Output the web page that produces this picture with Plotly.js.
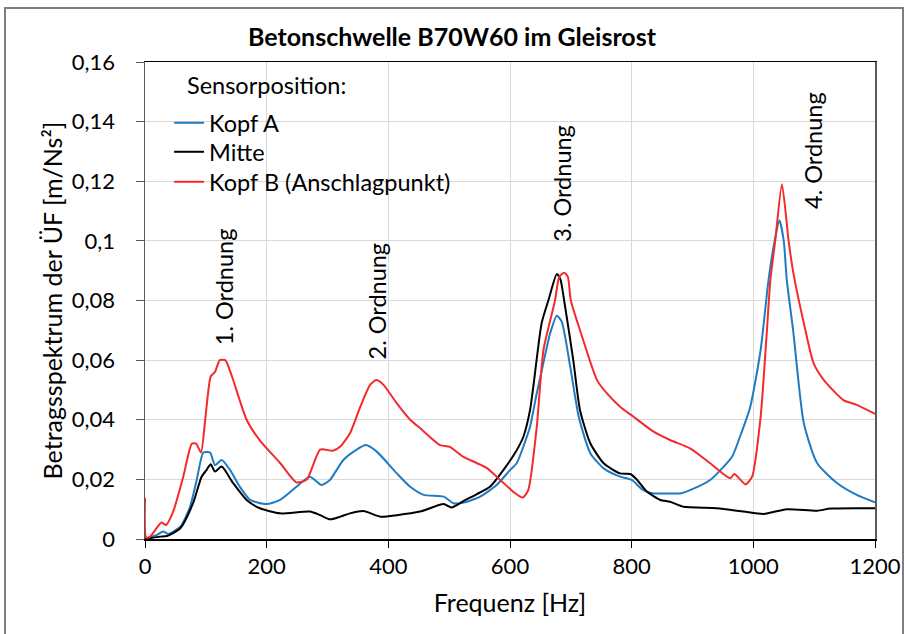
<!DOCTYPE html>
<html>
<head>
<meta charset="utf-8">
<script src="https://cdn.plot.ly/plotly-3.0.1.min.js"></script>
<style>
html,body{margin:0;padding:0;background:#fff;}
#chart{width:904px;height:634px;}
</style>
</head>
<body>
<div id="chart"></div>
<script>
// ---- data ----
const kopfA_f = [0,19,30,38,58,74,85,96,107,115,126,140,156,173,200,222,249,271,290,304,326,348,363,381,414,436,458,491,507,524,551,578,600,611,622,633,644,650,666,677,685,699,713,732,754,781,800,819,836,858,880,896,929,965,978,995,1012,1025,1035,1043,1050,1055,1066,1083,1105,1138,1170,1200];
const kopfA_v = [0,0.0013,0.0025,0.0017,0.0041,0.0108,0.0198,0.029,0.029,0.0248,0.0265,0.0231,0.0175,0.0131,0.0117,0.0131,0.0175,0.0209,0.0181,0.0198,0.0265,0.030,0.0315,0.0293,0.022,0.0175,0.0148,0.0142,0.012,0.0122,0.0142,0.0181,0.0231,0.0254,0.031,0.0377,0.0489,0.0544,0.069,0.0749,0.0729,0.0578,0.041,0.0288,0.0237,0.0209,0.0198,0.0164,0.0153,0.0153,0.0153,0.0164,0.0198,0.0276,0.0343,0.0444,0.0634,0.0869,0.100,0.1068,0.100,0.0869,0.069,0.0388,0.0254,0.0187,0.0148,0.0123];

const mitte_f = [0,25,36,58,79,93,101,108,115,126,145,167,189,222,271,288,304,321,337,359,387,414,452,491,504,524,545,567,589,611,622,633,639,652,663,677,683,689,704,715,732,754,781,798,809,825,847,863,885,940,984,1017,1055,1105,1127,1200];
const mitte_v = [0,0.0008,0.001,0.0036,0.012,0.0209,0.0231,0.0251,0.0226,0.0243,0.0187,0.0131,0.0103,0.0086,0.0092,0.008,0.0066,0.0075,0.0086,0.0094,0.0075,0.008,0.0092,0.0117,0.0106,0.0128,0.015,0.0175,0.0231,0.0298,0.0343,0.0433,0.0522,0.0724,0.080,0.0889,0.087,0.080,0.060,0.0433,0.0321,0.0254,0.022,0.0218,0.0198,0.0159,0.0131,0.0125,0.0108,0.0103,0.0092,0.0084,0.010,0.0095,0.0102,0.0103];

const kopfB_f = [0,2,8,27,34.5,46,63,77,84,92,99,108,115,123,132,143,167,189,222,249,266,288,309,321,337,354,370,380,392,414,436,452,485,501,523,545,562,584,605,621,630,644,655,674,681,689,695,700,715,743,759,781,803,836,863,896,929,962,969,987,998,1012,1022,1028,1036,1047,1058,1066,1083,1099,1116,1148,1170,1200];
const kopfB_v = [0.0138,0.0005,0.0007,0.0055,0.0047,0.009,0.021,0.032,0.032,0.029,0.040,0.0545,0.056,0.060,0.060,0.0545,0.040,0.033,0.0255,0.019,0.020,0.030,0.0296,0.031,0.0355,0.0444,0.0517,0.0533,0.0517,0.0455,0.040,0.0372,0.0315,0.0309,0.0276,0.0255,0.0238,0.0198,0.0159,0.0139,0.0164,0.0377,0.0634,0.080,0.088,0.0893,0.088,0.080,0.0701,0.0533,0.0489,0.0444,0.041,0.036,0.0332,0.0304,0.0254,0.0204,0.0218,0.0183,0.0209,0.041,0.069,0.0869,0.100,0.119,0.100,0.089,0.0724,0.059,0.0533,0.0466,0.045,0.042];

const seriesNames = ['Kopf A','Mitte','Kopf B (Anschlagpunkt)'];
const yTickVals = [0,0.02,0.04,0.06,0.08,0.1,0.12,0.14,0.16];
const yTickText = ['0','0,02','0,04','0,06','0,08','0,1','0,12','0,14','0,16'];
const xTickVals = [0,200,400,600,800,1000,1200];
const xTickText = ['0','200','400','600','800','1000','1200'];
const ordnungLabels = ['1. Ordnung','2. Ordnung','3. Ordnung','4. Ordnung'];
const ordnungX = [130,382,685,1098];
const ordnungY = [0.0845,0.0798,0.1194,0.1305];

const FONT = 'Lato, "Open Sans", sans-serif';

const lineStyle = (c)=>({color:c, width:2, shape:'spline', smoothing:0.6});
const traces = [
  {x:kopfA_f, y:kopfA_v, name:seriesNames[0], type:'scatter', mode:'lines', line:lineStyle('#1f7bc4'), legend:'legend'},
  {x:mitte_f, y:mitte_v, name:seriesNames[1], type:'scatter', mode:'lines', line:lineStyle('#000000'), legend:'legend2'},
  {x:kopfB_f, y:kopfB_v, name:seriesNames[2], type:'scatter', mode:'lines', line:lineStyle('#f52a2a'), legend:'legend3'}
];

const annotations = ordnungLabels.map((t,i)=>({
  text:t, x:ordnungX[i], y:ordnungY[i], xref:'x', yref:'y',
  textangle:-90, showarrow:false, font:{family:FONT, size:23.5, color:'#000'}
}));
annotations.push({
  text:'Sensorposition:', xref:'paper', yref:'paper', x:0.0548, y:0.952,
  xanchor:'left', yanchor:'middle', showarrow:false, font:{family:FONT, size:23.5, color:'#000'}
});

const legendBase = (yc)=>({x:0.033, y:yc, xanchor:'left', yanchor:'middle', bgcolor:'rgba(0,0,0,0)', borderwidth:0, font:{family:FONT, size:23.5, color:'#000'}});

const layout = {
  width:904, height:634,
  margin:{l:145, r:29, t:62, b:95},
  paper_bgcolor:'#ffffff', plot_bgcolor:'#ffffff',
  font:{family:FONT, size:22, color:'#000'},
  title:{text:'<b>Betonschwelle B70W60 im Gleisrost</b>', x:0.5, xref:'container', xanchor:'center', y:0.942, yref:'container', yanchor:'middle', font:{family:FONT, size:25, color:'#000'}},
  showlegend:true,
  legend:legendBase((539-123)/477),
  legend2:legendBase((539-152)/477),
  legend3:legendBase((539-182)/477),
  xaxis:{
    range:[0,1200], tickvals:xTickVals, ticktext:xTickText,
    showgrid:true, gridcolor:'#d9d9d9', gridwidth:1,
    showline:true, linecolor:'#000', linewidth:1.5, mirror:true,
    ticks:'outside', ticklen:7, tickcolor:'#000', ticklabelstandoff:0,
    tickfont:{family:FONT, size:22, color:'#000'},
    zeroline:false,
    title:{text:'Frequenz [Hz]', font:{family:FONT, size:25, color:'#000'}, standoff:16}
  },
  yaxis:{
    range:[0,0.16], tickvals:yTickVals, ticktext:yTickText,
    showgrid:true, gridcolor:'#d9d9d9', gridwidth:1,
    showline:true, linecolor:'#595959', linewidth:1.5, mirror:true,
    ticks:'outside', ticklen:8, tickcolor:'#595959', ticklabelstandoff:16,
    tickfont:{family:FONT, size:22, color:'#000'},
    zeroline:false,
    title:{text:'Betragsspektrum der ÜF [m/Ns²]', font:{family:FONT, size:25, color:'#000'}, standoff:2}
  },
  annotations:annotations,
  shapes:[{
    type:'rect', xref:'paper', yref:'paper',
    x0:(5-145)/730, x1:(903-145)/730, y0:(539-650)/477, y1:(539-8)/477,
    line:{color:'#7f7f7f', width:2}, fillcolor:'rgba(0,0,0,0)', layer:'below'
  }]
};

Plotly.newPlot('chart', traces, layout, {displayModeBar:false, staticPlot:true});
</script>
</body>
</html>
